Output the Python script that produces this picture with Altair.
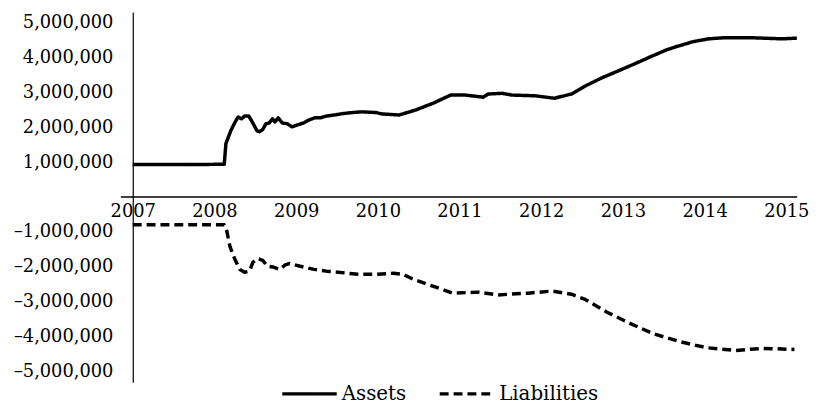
import altair as alt
import pandas as pd

# Assets (millions of dollars)
asset_years = [2007.00, 2007.32, 2007.68, 2008.12, 2008.14, 2008.20, 2008.26, 2008.29, 2008.33,
               2008.37, 2008.42, 2008.47, 2008.52, 2008.55, 2008.59, 2008.63, 2008.67, 2008.71,
               2008.74, 2008.78, 2008.83, 2008.89, 2008.95, 2009.02, 2009.09, 2009.16, 2009.23,
               2009.30, 2009.37, 2009.47, 2009.57, 2009.69, 2009.81, 2009.98, 2010.05, 2010.26,
               2010.46, 2010.68, 2010.89, 2011.07, 2011.29, 2011.35, 2011.52, 2011.64, 2011.92,
               2012.16, 2012.37, 2012.53, 2012.73, 2012.93, 2013.13, 2013.34, 2013.54, 2013.66,
               2013.86, 2014.05, 2014.23, 2014.59, 2014.95, 2015.13]
asset_values = [0.93, 0.93, 0.93, 0.94, 1.53, 1.90, 2.18, 2.29, 2.24,
                2.32, 2.32, 2.12, 1.90, 1.87, 1.93, 2.10, 2.12, 2.24,
                2.15, 2.27, 2.12, 2.10, 2.01, 2.07, 2.12, 2.21, 2.27,
                2.27, 2.32, 2.35, 2.39, 2.42, 2.44, 2.42, 2.38, 2.35,
                2.49, 2.69, 2.92, 2.92, 2.86, 2.95, 2.97, 2.92, 2.90,
                2.83, 2.95, 3.17, 3.40, 3.60, 3.80, 4.02, 4.22, 4.31,
                4.45, 4.53, 4.56, 4.56, 4.53, 4.55]

# Liabilities (millions of dollars, negative)
liab_years = [2007.00, 2007.56, 2008.12, 2008.15, 2008.19, 2008.25, 2008.31, 2008.37, 2008.43,
              2008.47, 2008.53, 2008.59, 2008.65, 2008.73, 2008.80, 2008.86, 2008.92, 2009.05,
              2009.22, 2009.37, 2009.59, 2009.76, 2009.98, 2010.19, 2010.31, 2010.43, 2010.71,
              2010.92, 2011.23, 2011.47, 2011.84, 2012.13, 2012.37, 2012.53, 2012.80, 2013.10,
              2013.37, 2013.70, 2014.02, 2014.38, 2014.71, 2015.10]
liab_values = [-0.79, -0.79, -0.79, -0.96, -1.42, -1.78, -2.07, -2.15, -2.12,
               -1.87, -1.76, -1.81, -1.98, -2.01, -2.07, -1.95, -1.90, -1.98,
               -2.07, -2.12, -2.17, -2.21, -2.21, -2.18, -2.21, -2.35, -2.58,
               -2.75, -2.72, -2.80, -2.75, -2.69, -2.78, -2.92, -3.29, -3.63,
               -3.91, -4.14, -4.31, -4.39, -4.33, -4.36]

series_names = ["Assets", "Liabilities"]
y_ticks = [-5e6, -4e6, -3e6, -2e6, -1e6, 0, 1e6, 2e6, 3e6, 4e6, 5e6]
x_ticks = [2007, 2008, 2009, 2010, 2011, 2012, 2013, 2014, 2015]
x_domain = [2007, 2015.133]

rows = []
for i, (yr, v) in enumerate(zip(asset_years, asset_values)):
    rows.append({"year": yr, "value": v * 1e6, "series": "Assets", "order": i})
for i, (yr, v) in enumerate(zip(liab_years, liab_values)):
    rows.append({"year": yr, "value": v * 1e6, "series": "Liabilities", "order": i})
df = pd.DataFrame(rows)

FONT = "DejaVu Serif"
W, H = 671, 374

x_scale = alt.Scale(domain=x_domain, nice=False, zero=False)
y_scale = alt.Scale(domain=[-5.3e6, 5.3e6], nice=False)

label_expr = ("datum.value == 0 ? '' : (datum.value < 0 ? '\u2013' : '') + "
              "format(abs(datum.value), ',')")

y_axis = alt.Axis(values=y_ticks, labelExpr=label_expr, title=None,
                  domain=True, domainColor="black", domainWidth=1.2,
                  ticks=False, grid=False, labelFont=FONT, labelFontSize=18,
                  labelColor="black", labelPadding=20, labelOverlap=False,
                  labelBound=False)

lines = alt.Chart(df).mark_line(strokeWidth=3.5, color="black", interpolate="linear",
                                strokeJoin="round").encode(
    x=alt.X("year:Q", scale=x_scale,
            axis=alt.Axis(values=x_ticks, format="d", title=None, orient="bottom",
                          offset=-H / 2, domain=False, ticks=False, grid=False,
                          labelFont=FONT, labelFontSize=18, labelColor="black",
                          labelPadding=6, labelFlush=False, labelOverlap=False,
                          labelBound=False)),
    y=alt.Y("value:Q", scale=y_scale, axis=y_axis),
    strokeDash=alt.StrokeDash("series:N",
                              scale=alt.Scale(domain=series_names, range=[[1, 0], [9, 5]]),
                              legend=alt.Legend(title=None, orient="none", direction="horizontal",
                                                legendX=149, legendY=356,
                                                symbolType="stroke", symbolSize=3025,
                                                symbolStrokeWidth=3.5, symbolStrokeColor="black",
                                                labelFont=FONT, labelFontSize=20,
                                                labelColor="black", labelOffset=3,
                                                columnPadding=26, padding=0)),
    detail="series:N",
    order="order:Q",
)

axis_line = alt.Chart(pd.DataFrame({"value": [0]})).mark_rule(color="black", strokeWidth=1.5).encode(
    y=alt.Y("value:Q", scale=y_scale, axis=y_axis),
    x=alt.value(-12),
    x2=alt.value(W),
)

chart = alt.layer(lines, axis_line).properties(
    width=W, height=H,
    padding={"left": 126, "top": 2, "right": 17, "bottom": 20},
    autosize=alt.AutoSizeParams(type="none"),
).configure(background="white").configure_view(stroke=None).configure_axis(labelOverlap=False)

chart.save("out.html", embed_options={"renderer": "svg", "actions": False})
